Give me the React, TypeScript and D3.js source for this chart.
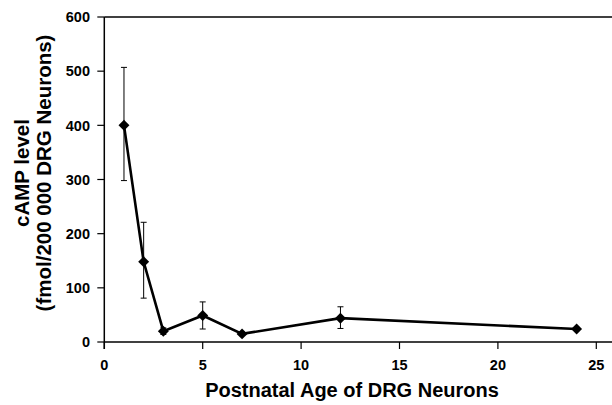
import React from "react";
import * as d3 from "d3";

const ages = [1, 2, 3, 5, 7, 12, 24];
const camp = [400, 148, 20, 49, 15, 44, 24];
const errUpper = [507, 221, 26, 74, 18, 65, 26];
const errLower = [298, 81, 14, 24, 12, 25, 22];
const xTicks = [0, 5, 10, 15, 20, 25];
const yTicks = [0, 100, 200, 300, 400, 500, 600];

const W = 612;
const H = 405;

export default function App() {
  const x = d3.scaleLinear().domain([0, 25]).range([104.3, 596.3]);
  const y = d3.scaleLinear().domain([0, 600]).range([342, 17]);
  const line = d3
    .line<number>()
    .x((_, i) => x(ages[i]))
    .y((d) => y(d));
  const diamond = d3.symbol().type(d3.symbolDiamond2).size(76)();
  const font = "'Liberation Sans', Arial, Helvetica, sans-serif";
  return (
    <svg
      width={W}
      height={H}
      style={{ position: "absolute", left: 0, top: 0 }}
      fontFamily={font}
      fontWeight="bold"
    >
      <rect width={W} height={H} fill="#fff" />
      {/* frame */}
      <line x1={x(0)} x2={W} y1={y(600)} y2={y(600)} stroke="#000" strokeWidth={1.5} />
      <line x1={x(0)} x2={W} y1={y(0)} y2={y(0)} stroke="#000" strokeWidth={1.5} />
      <line x1={x(0)} x2={x(0)} y1={y(600)} y2={y(0) + 7} stroke="#000" strokeWidth={1.5} />
      {yTicks.map((t) => (
        <g key={"y" + t}>
          <line x1={x(0) - 7} x2={x(0)} y1={y(t)} y2={y(t)} stroke="#000" strokeWidth={1.2} />
          <text x={90} y={y(t)} dy="0.36em" textAnchor="end" fontSize={14.5}>
            {t}
          </text>
        </g>
      ))}
      {xTicks.map((t) => (
        <g key={"x" + t}>
          <line x1={x(t)} x2={x(t)} y1={y(0)} y2={y(0) + 7} stroke="#000" strokeWidth={1.2} />
          <text x={x(t)} y={370} textAnchor="middle" fontSize={14.5}>
            {t}
          </text>
        </g>
      ))}
      {/* error bars */}
      {ages.map((a, i) => (
        <g key={"e" + i} stroke="#000" strokeWidth={1}>
          <line x1={x(a)} x2={x(a)} y1={y(errUpper[i])} y2={y(errLower[i])} />
          <line x1={x(a) - 3} x2={x(a) + 3} y1={y(errUpper[i])} y2={y(errUpper[i])} />
          <line x1={x(a) - 3} x2={x(a) + 3} y1={y(errLower[i])} y2={y(errLower[i])} />
        </g>
      ))}
      <path d={line(camp) || ""} fill="none" stroke="#000" strokeWidth={2.6} />
      {ages.map((a, i) => (
        <path key={"m" + i} d={diamond || ""} transform={`translate(${x(a)},${y(camp[i])})`} fill="#000" />
      ))}
      <text x={352} y={397} textAnchor="middle" fontSize={20}>
        Postnatal Age of DRG Neurons
      </text>
      <g transform="translate(29,173) rotate(-90)">
        <text x={0} y={0} textAnchor="middle" fontSize={20.5}>
          cAMP level
        </text>
        <text x={0} y={22} textAnchor="middle" fontSize={20.5}>
          (fmol/200 000 DRG Neurons)
        </text>
      </g>
    </svg>
  );
}
